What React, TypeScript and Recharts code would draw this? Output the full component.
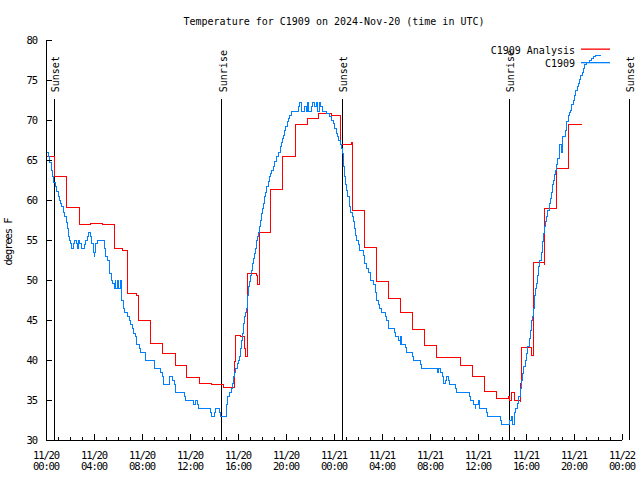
import React from 'react';
import { LineChart, Line, XAxis, YAxis, ReferenceLine, Legend } from 'recharts';

// Hours since 2024-11-20 00:00 UTC, temperature in °F
const analysisSeries: [number, number][] = [
  [0, 65.4], [0.7, 63.0], [1.67, 59.1], [2.75, 57.0], [3.72, 57.1], [4.72, 56.9], [5.7, 54.0],
  [6.35, 53.7], [6.75, 48.3], [7.5, 48.1], [7.72, 44.9], [8.72, 42.1], [9.72, 40.8], [10.75, 39.3],
  [11.72, 37.8], [12.75, 37.1], [13.75, 36.9], [14.5, 37.0], [14.78, 36.6], [15.7, 39.8], [15.78, 43.1],
  [16.2, 43.0], [16.5, 41.5], [16.6, 40.4], [16.75, 50.8], [17.55, 50.6], [17.62, 49.5], [17.75, 56.0],
  [18.72, 61.3], [19.72, 65.5], [20.75, 69.5], [21.78, 70.2], [22.7, 70.8], [23.8, 70.6], [24.5, 67.0],
  [25.45, 67.2], [25.5, 58.75], [26.53, 54.1], [27.5, 49.8], [28.5, 47.7], [29.55, 46.0], [30.55, 43.8],
  [31.5, 41.8], [32.55, 40.3], [34.5, 39.3], [35.5, 38.0], [36.55, 36.1], [37.55, 35.2], [38.5, 35.5],
  [38.6, 35.0], [38.8, 35.9], [39.0, 35.0], [39.5, 34.8], [39.55, 37.1], [39.6, 41.6], [40.47, 40.6],
  [40.6, 52.2], [41.5, 51.9], [41.53, 59.0], [42.5, 64.0], [43.55, 69.4], [44.64, 69.4],
];

const observedSeries: [number, number][] = [
  [0, 66.0], [0.19, 65.5], [0.33, 64.7], [0.42, 63.75], [0.5, 63.0], [0.61, 62.2], [0.8, 61.7],
  [0.89, 61.1], [1.03, 60.5], [1.11, 60.0], [1.22, 59.6], [1.31, 59.2], [1.44, 58.5], [1.58, 57.9],
  [1.72, 57.2], [1.8, 56.5], [1.88, 55.4], [1.95, 54.9], [2.03, 54.6], [2.14, 54.0], [2.28, 54.6],
  [2.36, 54.9], [2.5, 54.6], [2.61, 54.0], [2.69, 54.9], [2.83, 54.6], [2.94, 54.0], [3.17, 54.5],
  [3.31, 54.9], [3.44, 55.4], [3.53, 55.9], [3.67, 55.4], [3.81, 54.6], [3.94, 53.5], [4.0, 52.9],
  [4.08, 53.5], [4.14, 54.6], [4.28, 54.9], [4.86, 54.0], [4.97, 52.9], [5.14, 52.5], [5.25, 51.5],
  [5.33, 50.8], [5.44, 50.0], [5.56, 49.6], [5.67, 49.0], [5.75, 50.0], [5.83, 49.0], [5.94, 50.0],
  [6.06, 49.0], [6.17, 50.0], [6.25, 48.75], [6.33, 47.5], [6.42, 46.5], [6.5, 46.0], [6.78, 45.4],
  [6.92, 45.0], [7.06, 44.4], [7.22, 44.0], [7.33, 43.3], [7.42, 42.9], [7.5, 42.5], [7.56, 42.0],
  [7.75, 41.5], [7.89, 41.0], [8.25, 40.5], [8.33, 40.0], [9.0, 39.5], [9.08, 38.96], [9.56, 38.4],
  [9.67, 37.9], [9.83, 37.0], [10.33, 38.0], [10.56, 37.5], [10.69, 37.0], [10.83, 35.9], [11.53, 35.4],
  [11.64, 34.96], [12.33, 34.5], [12.44, 35.0], [12.61, 34.5], [12.69, 33.96], [13.72, 33.5],
  [13.78, 32.96], [14.03, 33.5], [14.14, 34.0], [14.44, 33.5], [14.53, 33.0], [15.03, 34.4],
  [15.14, 35.4], [15.25, 35.9], [15.42, 36.5], [15.53, 37.1], [15.61, 37.9], [15.69, 38.5],
  [15.8, 38.96], [15.94, 39.6], [16.03, 40.0], [16.14, 40.5], [16.22, 41.5], [16.3, 42.5],
  [16.39, 43.3], [16.47, 44.6], [16.55, 45.4], [16.64, 46.0], [16.72, 46.5], [16.8, 48.1],
  [16.89, 49.2], [16.97, 49.8], [17.05, 50.6], [17.14, 51.25], [17.22, 52.1], [17.3, 52.7],
  [17.39, 53.3], [17.47, 54.0], [17.55, 54.9], [17.64, 55.4], [17.72, 56.0], [17.8, 56.7],
  [17.89, 57.5], [17.94, 58.3], [18.03, 58.96], [18.11, 59.6], [18.19, 60.4], [18.3, 61.0],
  [18.39, 61.7], [18.5, 62.3], [18.61, 62.9], [18.72, 63.3], [18.8, 63.75], [18.94, 64.25],
  [19.08, 64.8], [19.22, 65.4], [19.36, 66.0], [19.5, 66.7], [19.61, 67.2], [19.69, 67.7],
  [19.78, 68.1], [19.89, 68.75], [19.97, 69.25], [20.11, 69.8], [20.22, 70.2], [20.33, 70.6],
  [20.47, 71.1], [21.03, 71.7], [21.11, 72.2], [21.3, 71.1], [21.5, 71.7], [21.72, 71.1],
  [21.8, 72.2], [21.91, 71.1], [22.1, 71.7], [22.2, 72.2], [22.35, 71.7], [22.5, 72.2], [22.6, 71.1],
  [22.75, 72.2], [22.9, 71.7], [23.0, 71.1], [23.39, 70.8], [23.66, 70.4], [23.8, 70.0], [23.94, 69.6],
  [24.08, 69.0], [24.22, 68.3], [24.3, 67.9], [24.41, 67.5], [24.5, 66.9], [24.64, 66.5],
  [24.69, 65.8], [24.78, 64.2], [24.86, 62.9], [24.97, 61.9], [25.05, 61.25], [25.14, 60.4],
  [25.25, 59.8], [25.33, 59.2], [25.41, 58.5], [25.53, 57.9], [25.61, 57.3], [25.69, 56.5],
  [25.78, 55.6], [25.89, 54.9], [26.03, 54.4], [26.16, 53.75], [26.44, 53.1], [26.58, 52.1],
  [26.72, 51.5], [26.86, 50.9], [27.05, 50.0], [27.33, 49.4], [27.44, 48.5], [27.55, 47.5],
  [27.69, 46.9], [27.83, 46.5], [27.97, 45.9], [28.25, 45.4], [28.39, 44.9], [28.53, 44.0],
  [29.0, 43.4], [29.14, 42.9], [29.36, 42.4], [29.5, 42.0], [29.55, 42.9], [29.64, 42.0],
  [29.92, 41.6], [30.05, 41.0], [30.19, 40.9], [30.53, 40.5], [30.61, 40.0], [31.22, 39.5],
  [31.28, 38.96], [32.61, 38.5], [32.72, 38.96], [32.89, 38.5], [33.0, 38.0], [33.16, 37.1],
  [33.3, 37.5], [33.39, 38.0], [33.53, 37.5], [33.66, 37.0], [34.16, 36.5], [34.22, 36.0],
  [35.28, 35.4], [35.39, 34.96], [35.66, 34.5], [35.75, 34.0], [35.83, 34.5], [36.03, 34.96],
  [36.11, 34.0], [36.72, 33.5], [36.78, 33.0], [37.89, 32.5], [37.97, 32.0], [38.66, 32.5],
  [38.8, 33.0], [38.89, 32.0], [39.0, 33.0], [39.08, 33.5], [39.16, 34.0], [39.28, 34.6],
  [39.36, 35.4], [39.5, 36.5], [39.61, 37.5], [39.72, 38.3], [39.83, 39.2], [39.94, 40.0],
  [40.05, 40.8], [40.16, 41.7], [40.28, 42.7], [40.36, 43.75], [40.44, 45.0], [40.53, 45.4],
  [40.61, 46.5], [40.69, 48.1], [40.78, 48.96], [40.86, 49.6], [40.94, 50.6], [41.05, 51.7],
  [41.16, 52.5], [41.28, 53.5], [41.36, 54.8], [41.44, 55.8], [41.53, 56.7], [41.64, 57.3],
  [41.72, 57.9], [41.8, 58.75], [41.92, 59.6], [42.0, 60.2], [42.11, 61.0], [42.19, 61.9],
  [42.28, 62.5], [42.39, 63.25], [42.47, 63.75], [42.55, 64.4], [42.66, 65.2], [42.75, 65.8],
  [42.83, 66.9], [42.97, 65.9], [43.0, 66.9], [43.08, 68.0], [43.3, 68.75], [43.39, 69.8],
  [43.5, 70.6], [43.61, 71.0], [43.72, 71.25], [43.8, 71.9], [43.94, 72.5], [44.03, 73.1],
  [44.14, 73.75], [44.25, 74.2], [44.36, 74.6], [44.44, 75.1], [44.58, 75.6], [44.69, 76.0],
  [44.8, 76.5], [44.91, 76.9], [45.05, 77.2], [45.33, 77.5], [45.47, 77.7], [45.61, 77.9],
  [45.75, 78.1], [46.22, 78.1],
];

const sunEventHours = [0.69, 14.64, 24.69, 38.61, 48.61];
const sunEventLabels = ['Sunset', 'Sunrise', 'Sunset', 'Sunrise', 'Sunset'];
const sunLineTop = 72.6;

const majorTickHours = [0, 4, 8, 12, 16, 20, 24, 28, 32, 36, 40, 44, 48];
const tickDates = ['11/20', '11/20', '11/20', '11/20', '11/20', '11/20', '11/21', '11/21', '11/21', '11/21', '11/21', '11/21', '11/22'];
const tickTimes = ['00:00', '04:00', '08:00', '12:00', '16:00', '20:00', '00:00', '04:00', '08:00', '12:00', '16:00', '20:00', '00:00'];
const hourTicks = Array.from({ length: 49 }, (_, i) => i);
const yTicks = [30, 35, 40, 45, 50, 55, 60, 65, 70, 75, 80];

const analysisData = analysisSeries.map(([h, v]) => ({ h, v }));
const observedData = observedSeries.map(([h, v]) => ({ h, v }));

const RED = '#ff0000';
const BLUE = '#0080ff';

const MONO = "'DejaVu Sans Mono', 'Liberation Mono', monospace";
const smallFont: React.CSSProperties = { fontFamily: MONO, fontSize: 10.5, letterSpacing: -1.1, fill: '#000' };
const bigFont: React.CSSProperties = { fontFamily: MONO, fontSize: 10, fill: '#000' };

const MAJOR = 6;
const MINOR = 3;

const BottomTick = (props: any) => {
  const { x, y, payload } = props;
  const i = majorTickHours.indexOf(payload.value);
  const major = i >= 0;
  return (
    <g>
      <line x1={x} x2={x} y1={y} y2={y - (major ? MAJOR : MINOR)} stroke="#000" shapeRendering="crispEdges" />
      {major && (
        <text x={x} y={y + 19} textAnchor="middle" style={smallFont}>{tickDates[i]}</text>
      )}
      {major && (
        <text x={x} y={y + 30} textAnchor="middle" style={smallFont}>{tickTimes[i]}</text>
      )}
    </g>
  );
};

const TopTick = (props: any) => {
  const { x, y, payload } = props;
  const major = majorTickHours.indexOf(payload.value) >= 0;
  return <line x1={x} x2={x} y1={y} y2={y + (major ? MAJOR : MINOR)} stroke="#000" shapeRendering="crispEdges" />;
};

const LeftTick = (props: any) => {
  const { x, y, payload } = props;
  return (
    <g>
      <line x1={x} x2={x + MAJOR} y1={y} y2={y} stroke="#000" shapeRendering="crispEdges" />
      <text x={x - 9} y={y + 4} textAnchor="end" style={smallFont}>{payload.value}</text>
    </g>
  );
};

const RightTick = (props: any) => {
  const { x, y } = props;
  return <line x1={x} x2={x - MAJOR} y1={y} y2={y} stroke="#000" shapeRendering="crispEdges" />;
};

const SunLabel = (props: any) => {
  const vb = props.viewBox || {};
  const x = (vb.x ?? 0) + 5;
  const y = (vb.y ?? 0) - 7;
  return (
    <text x={x} y={y} transform={`rotate(-90 ${x} ${y})`} textAnchor="start" style={bigFont}>
      {props.text}
    </text>
  );
};

const YLabel = (props: any) => {
  const vb = props.viewBox || {};
  const x = (vb.x ?? 0) + 12;
  const y = (vb.y ?? 0) + (vb.height ?? 0) / 2 + 2;
  return (
    <text x={x} y={y} transform={`rotate(-90 ${x} ${y})`} textAnchor="middle" style={smallFont}>
      degrees F
    </text>
  );
};

const LegendBox = () => (
  <svg width={150} height={32} style={{ display: 'block', overflow: 'visible' }}>
    <text x={95} y={14} textAnchor="end" style={bigFont}>C1909 Analysis</text>
    <rect x={101} y={8.5} width={29} height={1.3} fill={RED} />
    <text x={95} y={27} textAnchor="end" style={bigFont}>C1909</text>
    <rect x={101} y={22} width={29} height={1.3} fill={BLUE} />
  </svg>
);

export default function App() {
  return (
    <div style={{ position: 'absolute', left: 0, top: 0, width: 640, height: 480, background: '#fff' }}>
      <LineChart width={640} height={480} margin={{ top: 40, right: 18, bottom: 0, left: 0 }}>
        <XAxis
          xAxisId="bottom"
          dataKey="h"
          type="number"
          domain={[0, 48]}
          ticks={hourTicks}
          interval={0}
          height={40}
          tickSize={0}
          tickMargin={0}
          tickLine={false}
          axisLine={{ stroke: '#000', shapeRendering: 'crispEdges' }}
          tick={<BottomTick />}
          allowDataOverflow
        />
        <XAxis
          xAxisId="top"
          orientation="top"
          dataKey="h"
          type="number"
          domain={[0, 48]}
          ticks={hourTicks}
          interval={0}
          height={0}
          tickSize={0}
          tickMargin={0}
          tickLine={false}
          axisLine={{ stroke: '#000', shapeRendering: 'crispEdges' }}
          tick={<TopTick />}
          allowDataOverflow
        />
        <YAxis
          yAxisId="left"
          type="number"
          domain={[30, 80]}
          ticks={yTicks}
          interval={0}
          width={46}
          tickSize={0}
          tickMargin={0}
          tickLine={false}
          axisLine={{ stroke: '#000', shapeRendering: 'crispEdges' }}
          tick={<LeftTick />}
          label={(p: any) => <YLabel {...p} />}
        />
        <YAxis
          yAxisId="right"
          orientation="right"
          type="number"
          domain={[30, 80]}
          ticks={yTicks}
          interval={0}
          width={0}
          tickSize={0}
          tickMargin={0}
          tickLine={false}
          axisLine={{ stroke: '#000', shapeRendering: 'crispEdges' }}
          tick={<RightTick />}
        />
        {sunEventHours.map((h, i) => (
          <ReferenceLine
            key={`sun-${i}`}
            xAxisId="bottom"
            yAxisId="left"
            segment={[{ x: h, y: sunLineTop }, { x: h, y: 30 }]}
            stroke="#000"
            strokeWidth={1}
            ifOverflow="visible"
            shapeRendering="crispEdges"
            label={(p: any) => <SunLabel {...p} text={sunEventLabels[i]} />}
          />
        ))}
        <Line
          xAxisId="bottom"
          yAxisId="left"
          data={analysisData}
          dataKey="v"
          type="stepAfter"
          stroke={RED}
          strokeWidth={1}
          shapeRendering="crispEdges"
          dot={false}
          activeDot={false}
          isAnimationActive={false}
          name="C1909 Analysis"
        />
        <Line
          xAxisId="bottom"
          yAxisId="left"
          data={observedData}
          dataKey="v"
          type="stepAfter"
          stroke={BLUE}
          strokeWidth={1}
          shapeRendering="crispEdges"
          dot={false}
          activeDot={false}
          isAnimationActive={false}
          name="C1909"
        />
        <Legend
          layout="horizontal"
          verticalAlign="middle"
          align="center"
          wrapperStyle={{ left: 480, top: 40, width: 150, height: 32 }}
          content={() => <LegendBox />}
        />
      </LineChart>
      <svg width={640} height={40} style={{ position: 'absolute', left: 0, top: 0, pointerEvents: 'none' }}>
        <text x={334} y={25} textAnchor="middle" style={bigFont}>
          Temperature for C1909 on 2024-Nov-20 (time in UTC)
        </text>
      </svg>
    </div>
  );
}
